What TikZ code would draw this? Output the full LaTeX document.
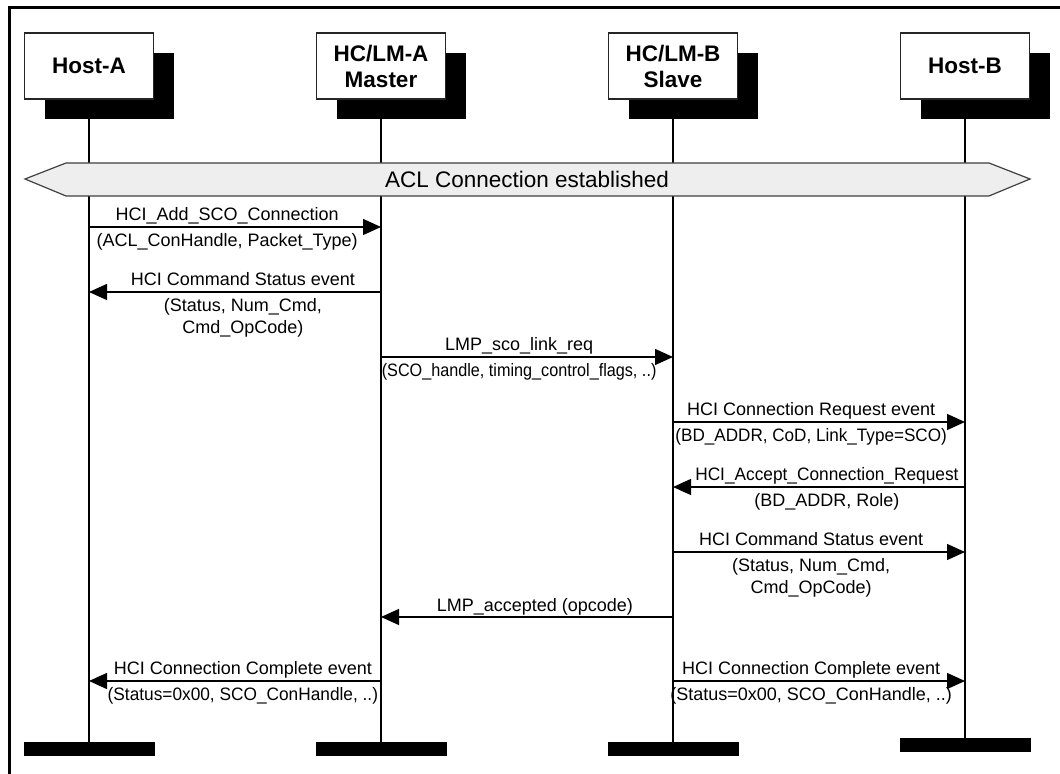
\documentclass[tikz,border=0pt]{standalone}
\usepackage{fontspec}
\setmainfont{Liberation Sans}
\usetikzlibrary{arrows.meta,shadows}

\definecolor{aclgray}{HTML}{EEEEEE}

\tikzset{
  entity/.style={draw=black!85, fill=white, line width=0.6pt, inner sep=0pt,
    minimum width=64.5pt, minimum height=33pt, align=center,
    font=\fontsize{11.25}{13}\selectfont\bfseries,
    drop shadow={shadow xshift=10pt, shadow yshift=-10pt, fill=black, opacity=1}},
  endbar/.style={fill=black, inner sep=0pt, minimum width=65.5pt, minimum height=7pt},
  lifeline/.style={line width=0.7pt},
  msg/.style={line width=0.7pt, -{Triangle[length=9pt,width=8pt]}},
  sigtop/.style={pos=.473, anchor=base, yshift=3pt, inner sep=0pt,
    font=\fontsize{9}{10.8}\selectfont},
  sigbot/.style={pos=.473, anchor=north, yshift=-3pt, inner sep=0pt, align=center,
    font=\fontsize{9}{10.8}\selectfont}
}

\begin{document}
\begin{tikzpicture}[x=0.5pt, y=-0.5pt]
	\useasboundingbox (0,0) rectangle (1060,774);
	\begin{scope}
		\clip (0,0) rectangle (1060,774);
		\draw[line width=1.5pt] (9,800) |- (1080,8);
	\end{scope}

	% parties
	\node[entity] (hostA) at (89,66) {Host-A};
	\node[entity] (lmA) at (381,66) {HC/LM-A\\Master};
	\node[entity] (lmB) at (673,66) {HC/LM-B\\Slave};
	\node[entity] (hostB) at (965,66) {Host-B};

	\node[endbar] (endA) at (89,749) {};
	\node[endbar] (endLA) at (381,749) {};
	\node[endbar] (endLB) at (673,749) {};
	\node[endbar] (endB) at (965,745) {};

	\draw[lifeline] (hostA.south) -- (endA.north);
	\draw[lifeline] (lmA.south) -- (endLA.north);
	\draw[lifeline] (lmB.south) -- (endLB.north);
	\draw[lifeline] (hostB.south) -- (endB.north);

	% ACL bar
	\draw[fill=aclgray, draw=black!75, line width=0.6pt]
		(25,179) -- (66,163) -- (989,163) -- (1030,179) -- (989,196) -- (66,196) -- cycle;
	\node[font=\fontsize{11.25}{13}\selectfont] (acl) at (527,179) {ACL Connection established};

	% messages
	\draw[msg] (hostA |- 0,227) -- (lmA |- 0,227)
		node[sigtop]{HCI\_Add\_SCO\_Connection}
		node[sigbot]{(ACL\_ConHandle, Packet\_Type)};
	\draw[msg] (lmA |- 0,292) -- (hostA |- 0,292)
		node[sigtop]{HCI Command Status event}
		node[sigbot]{(Status, Num\_Cmd,\\Cmd\_OpCode)};
	\draw[msg] (lmA |- 0,357) -- (lmB |- 0,357)
		node[sigtop]{LMP\_sco\_link\_req}
		node[sigbot]{\scalebox{0.9}[1]{(SCO\_handle, timing\_control\_flags, ..)}};
	\draw[msg] (lmB |- 0,422) -- (hostB |- 0,422)
		node[sigtop]{HCI Connection Request event}
		node[sigbot]{\scalebox{0.95}[1]{(BD\_ADDR, CoD, Link\_Type=SCO)}};
	\draw[msg] (hostB |- 0,487) -- (lmB |- 0,487)
		node[sigtop]{\scalebox{0.96}[1]{HCI\_Accept\_Connection\_Request}}
		node[sigbot]{(BD\_ADDR, Role)};
	\draw[msg] (lmB |- 0,552) -- (hostB |- 0,552)
		node[sigtop]{HCI Command Status event}
		node[sigbot]{(Status, Num\_Cmd,\\Cmd\_OpCode)};
	\draw[msg] (lmB |- 0,617) -- (lmA |- 0,617)
		node[sigtop]{LMP\_accepted (opcode)};
	\draw[msg] (lmA |- 0,681) -- (hostA |- 0,681)
		node[sigtop]{HCI Connection Complete event}
		node[sigbot]{\scalebox{0.96}[1]{(Status=0x00, SCO\_ConHandle, ..)}};
	\draw[msg] (lmB |- 0,681) -- (hostB |- 0,681)
		node[sigtop]{HCI Connection Complete event}
		node[sigbot]{(Status=0x00, SCO\_ConHandle, ..)};
\end{tikzpicture}
\end{document}
